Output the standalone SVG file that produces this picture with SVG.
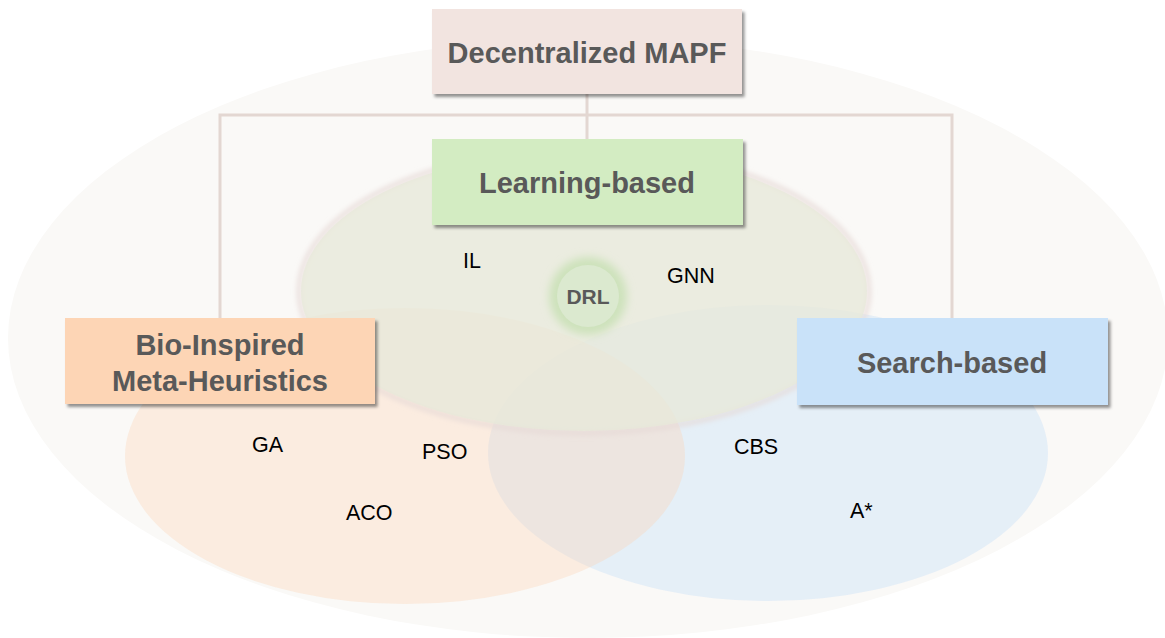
<svg xmlns="http://www.w3.org/2000/svg" width="1165" height="638" viewBox="0 0 1165 638">
  <defs>
    <filter id="shadow" x="-10%" y="-20%" width="120%" height="150%">
      <feDropShadow dx="2.5" dy="3" stdDeviation="1.5" flood-color="#000000" flood-opacity="0.42"/>
    </filter>
    <filter id="soft" x="-20%" y="-20%" width="140%" height="140%">
      <feGaussianBlur stdDeviation="2.5"/>
    </filter>
    <filter id="glow" x="-50%" y="-50%" width="200%" height="200%">
      <feGaussianBlur stdDeviation="4.5"/>
    </filter>
  </defs>
  <style>
    .box { filter: url(#shadow); }
    .title { font-family: "Liberation Sans", Arial, sans-serif; font-weight: bold; font-size: 29px; fill: #595959; text-anchor: middle; }
    .item { font-family: "Liberation Sans", Arial, sans-serif; font-size: 21.5px; fill: #000000; }
    .link { fill: none; stroke: #e3d7d2; stroke-width: 3; }
  </style>

  <rect width="1165" height="638" fill="#ffffff"/>

  <!-- background regions -->
  <g id="regions">
    <ellipse id="outer-region" cx="588" cy="338" rx="580" ry="300" fill="#faf9f7"/>
    <ellipse id="search-region" cx="768" cy="453" rx="280" ry="148" fill="#c9e2f9" fill-opacity="0.43"/>
    <ellipse id="bio-region" cx="405" cy="456" rx="280" ry="148" fill="#fcd5b5" fill-opacity="0.35"/>
    <ellipse id="learning-halo" cx="584" cy="291" rx="285" ry="142" fill="none" stroke="#e6d8d5" stroke-width="5" stroke-opacity="0.75" filter="url(#soft)"/>
    <ellipse id="learning-region" cx="584" cy="291" rx="283" ry="140" fill="#e7e9da" fill-opacity="0.8"/>
  </g>

  <!-- connectors -->
  <g id="connectors">
    <path class="link" d="M587 94 V139"/>
    <path class="link" d="M220 318 V115 H952 V318"/>
  </g>

  <g id="node-root">
    <rect class="box" x="432" y="9" width="310" height="85" fill="#f2e4e0"/>
    <text class="title" x="587" y="63">Decentralized MAPF</text>
  </g>

  <g id="node-learning">
    <rect class="box" x="432" y="139" width="311" height="86" fill="#d3ecc2"/>
    <text class="title" x="587" y="193">Learning-based</text>
  </g>

  <g id="node-bio">
    <rect class="box" x="65" y="318" width="310" height="86" fill="#fdd5b5"/>
    <text class="title" x="220" y="355">Bio-Inspired</text>
    <text class="title" x="220" y="391">Meta-Heuristics</text>
  </g>

  <g id="node-search">
    <rect class="box" x="797" y="318" width="311" height="87" fill="#c9e2f9"/>
    <text class="title" x="952" y="373">Search-based</text>
  </g>

  <g id="node-drl">
    <circle cx="588" cy="296" r="39" fill="#cde2bb" filter="url(#glow)"/>
    <circle cx="588" cy="296" r="31" fill="#dbe9cf"/>
    <text x="588" y="304" font-family="Liberation Sans, Arial, sans-serif" font-weight="bold" font-size="21" fill="#595959" text-anchor="middle">DRL</text>
  </g>

  <g id="method-labels">
    <text class="item" x="463" y="268">IL</text>
    <text class="item" x="667" y="283">GNN</text>
    <text class="item" x="252" y="452">GA</text>
    <text class="item" x="422" y="459">PSO</text>
    <text class="item" x="346" y="520">ACO</text>
    <text class="item" x="734" y="454">CBS</text>
    <text class="item" x="850" y="518">A*</text>
  </g>
</svg>
